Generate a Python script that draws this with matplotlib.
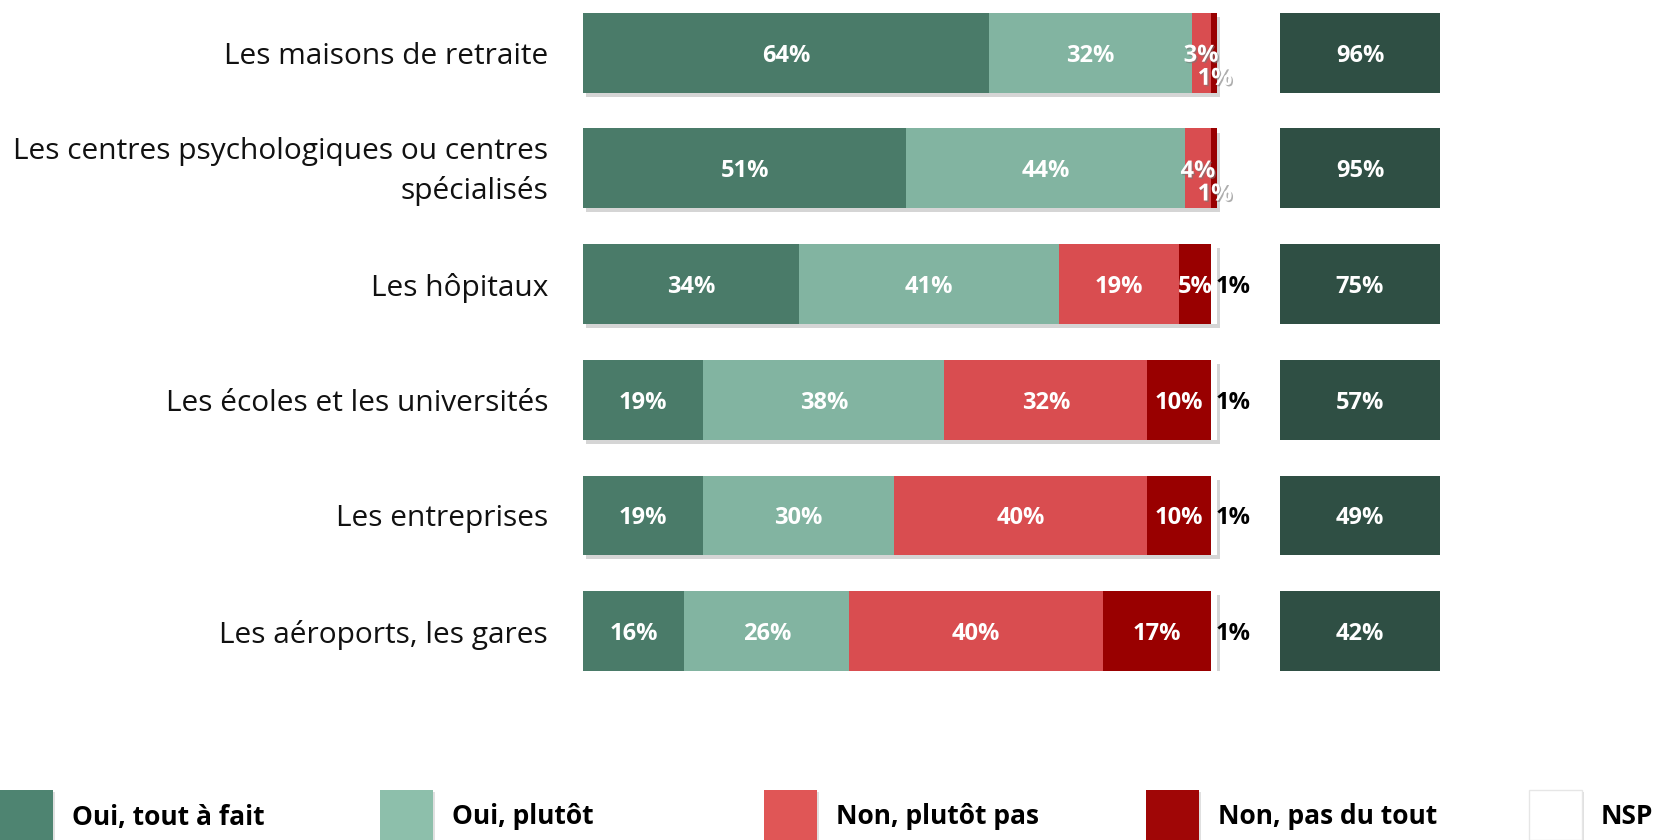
"""
Stacked horizontal bars: agreement by type of place, with totals column.
"""
import matplotlib
matplotlib.use("Agg")
import matplotlib.pyplot as plt
import matplotlib.patheffects as pe
from matplotlib.patches import Rectangle

plt.rcParams["font.family"] = ["Open Sans", "DejaVu Sans"]

# data
categories = [
    "Les maisons de retraite",
    "Les centres psychologiques ou centres\nspécialisés",
    "Les hôpitaux",
    "Les écoles et les universités",
    "Les entreprises",
    "Les aéroports, les gares",
]
series_names = ["Oui, tout à fait", "Oui, plutôt", "Non, plutôt pas",
                "Non, pas du tout", "NSP"]
oui_tout_a_fait = [64, 51, 34, 19, 19, 16]
oui_plutot = [32, 44, 41, 38, 30, 26]
non_plutot_pas = [3, 4, 19, 32, 40, 40]
non_pas_du_tout = [1, 1, 5, 10, 10, 17]
nsp = [0, 0, 1, 1, 1, 1]
total_oui = [96, 95, 75, 57, 49, 42]

# styles
bar_colors = ["#4A7B69", "#82B4A1", "#D94D50", "#990000", "#FFFFFF"]
legend_colors = ["#4E8471", "#8DBFAB", "#E05656", "#A00606", "#FFFFFF"]
total_color = "#2F4F44"
LABEL_FS = 17

W, H = 1670, 840
fig = plt.figure(figsize=(W / 100, H / 100), dpi=100)

# axes: x=0 at 583px, x=100 at 1217px ; rows from 12.8px to 671px
ax_left, ax_right = 583, 1440
ax_top, ax_bottom = 12.8, 671
ax = fig.add_axes([ax_left / W, 1 - ax_bottom / H,
                   (ax_right - ax_left) / W, (ax_bottom - ax_top) / H])
xmax = (ax_right - ax_left) / 634 * 100
ax.set_xlim(0, xmax)
bar_h = 0.69
ax.set_ylim(len(categories) - 1 + bar_h / 2, -bar_h / 2)

ypos = list(range(len(categories)))
shadow = [pe.SimplePatchShadow(offset=(2, -3), shadow_rgbFace="#888888", alpha=0.35),
          pe.Normal()]
txt_shadow = [pe.SimplePatchShadow(offset=(1, -1), shadow_rgbFace="#777777", alpha=0.6),
              pe.Normal()]

series = [oui_tout_a_fait, oui_plutot, non_plutot_pas, non_pas_du_tout, nsp]
left = [0] * len(categories)
for k, vals in enumerate(series):
    bars = ax.barh(ypos, vals, left=left, height=bar_h, color=bar_colors[k],
                   edgecolor="none", zorder=2)
    for b in bars:
        b.set_path_effects(shadow)
    for i, v in enumerate(vals):
        if v == 0:
            continue
        cx = left[i] + v / 2
        if k == 4:
            ax.text(left[i] + v - 0.3, i, f"{v}%", ha="left", va="center_baseline",
                    fontsize=LABEL_FS, fontweight="bold", color="black", zorder=3)
        elif k == 3 and v < 3:
            ax.text(cx + 0.2, i + 0.2, f"{v}%", ha="center", va="center_baseline",
                    fontsize=LABEL_FS, fontweight="bold", color="white", zorder=3,
                    path_effects=txt_shadow)
        else:
            ax.text(cx, i, f"{v}%", ha="center", va="center_baseline",
                    fontsize=LABEL_FS, fontweight="bold", color="white", zorder=3,
                    path_effects=txt_shadow if v < 5 else None)
    left = [l + v for l, v in zip(left, vals)]

# totals column
box_left, box_w = (1280 - ax_left) / 634 * 100, 160 / 634 * 100
ax.barh(ypos, [box_w] * len(categories), left=box_left, height=bar_h,
        color=total_color, edgecolor="none", zorder=2)
for i, t in enumerate(total_oui):
    ax.text(box_left + box_w / 2, i, f"{t}%", ha="center", va="center_baseline",
            fontsize=LABEL_FS, fontweight="bold", color="white", zorder=3)

# category labels, right aligned 35px left of the bars
lab_x = -35 / 634 * 100
for i, cat in enumerate(categories):
    dy = -0.047 if "\n" in cat else 0
    ax.text(lab_x, i + dy, cat, ha="right", va="center_baseline", fontsize=21.5,
            color="#111111", linespacing=1.45, multialignment="right", clip_on=False)

ax.set_yticks([])
ax.set_xticks([])
for s in ax.spines.values():
    s.set_visible(False)

# legend
leg_x = [0, 380, 764, 1146, 1529]
for k, name in enumerate(series_names):
    x0 = leg_x[k]
    sq = Rectangle((x0 / W, 1 - 840 / H), 53 / W, 50 / H, transform=fig.transFigure,
                   facecolor=legend_colors[k], edgecolor="#e6e6e6" if k == 4 else "none",
                   linewidth=1)
    sq.set_path_effects([pe.SimplePatchShadow(offset=(1.5, -1.5), shadow_rgbFace="#999999",
                                              alpha=0.3), pe.Normal()])
    fig.add_artist(sq)
    fig.text((x0 + 72) / W, 1 - 814 / H, name, ha="left", va="center_baseline",
             fontsize=19, fontweight="bold", color="black")

fig.savefig("out.png", dpi=100)
